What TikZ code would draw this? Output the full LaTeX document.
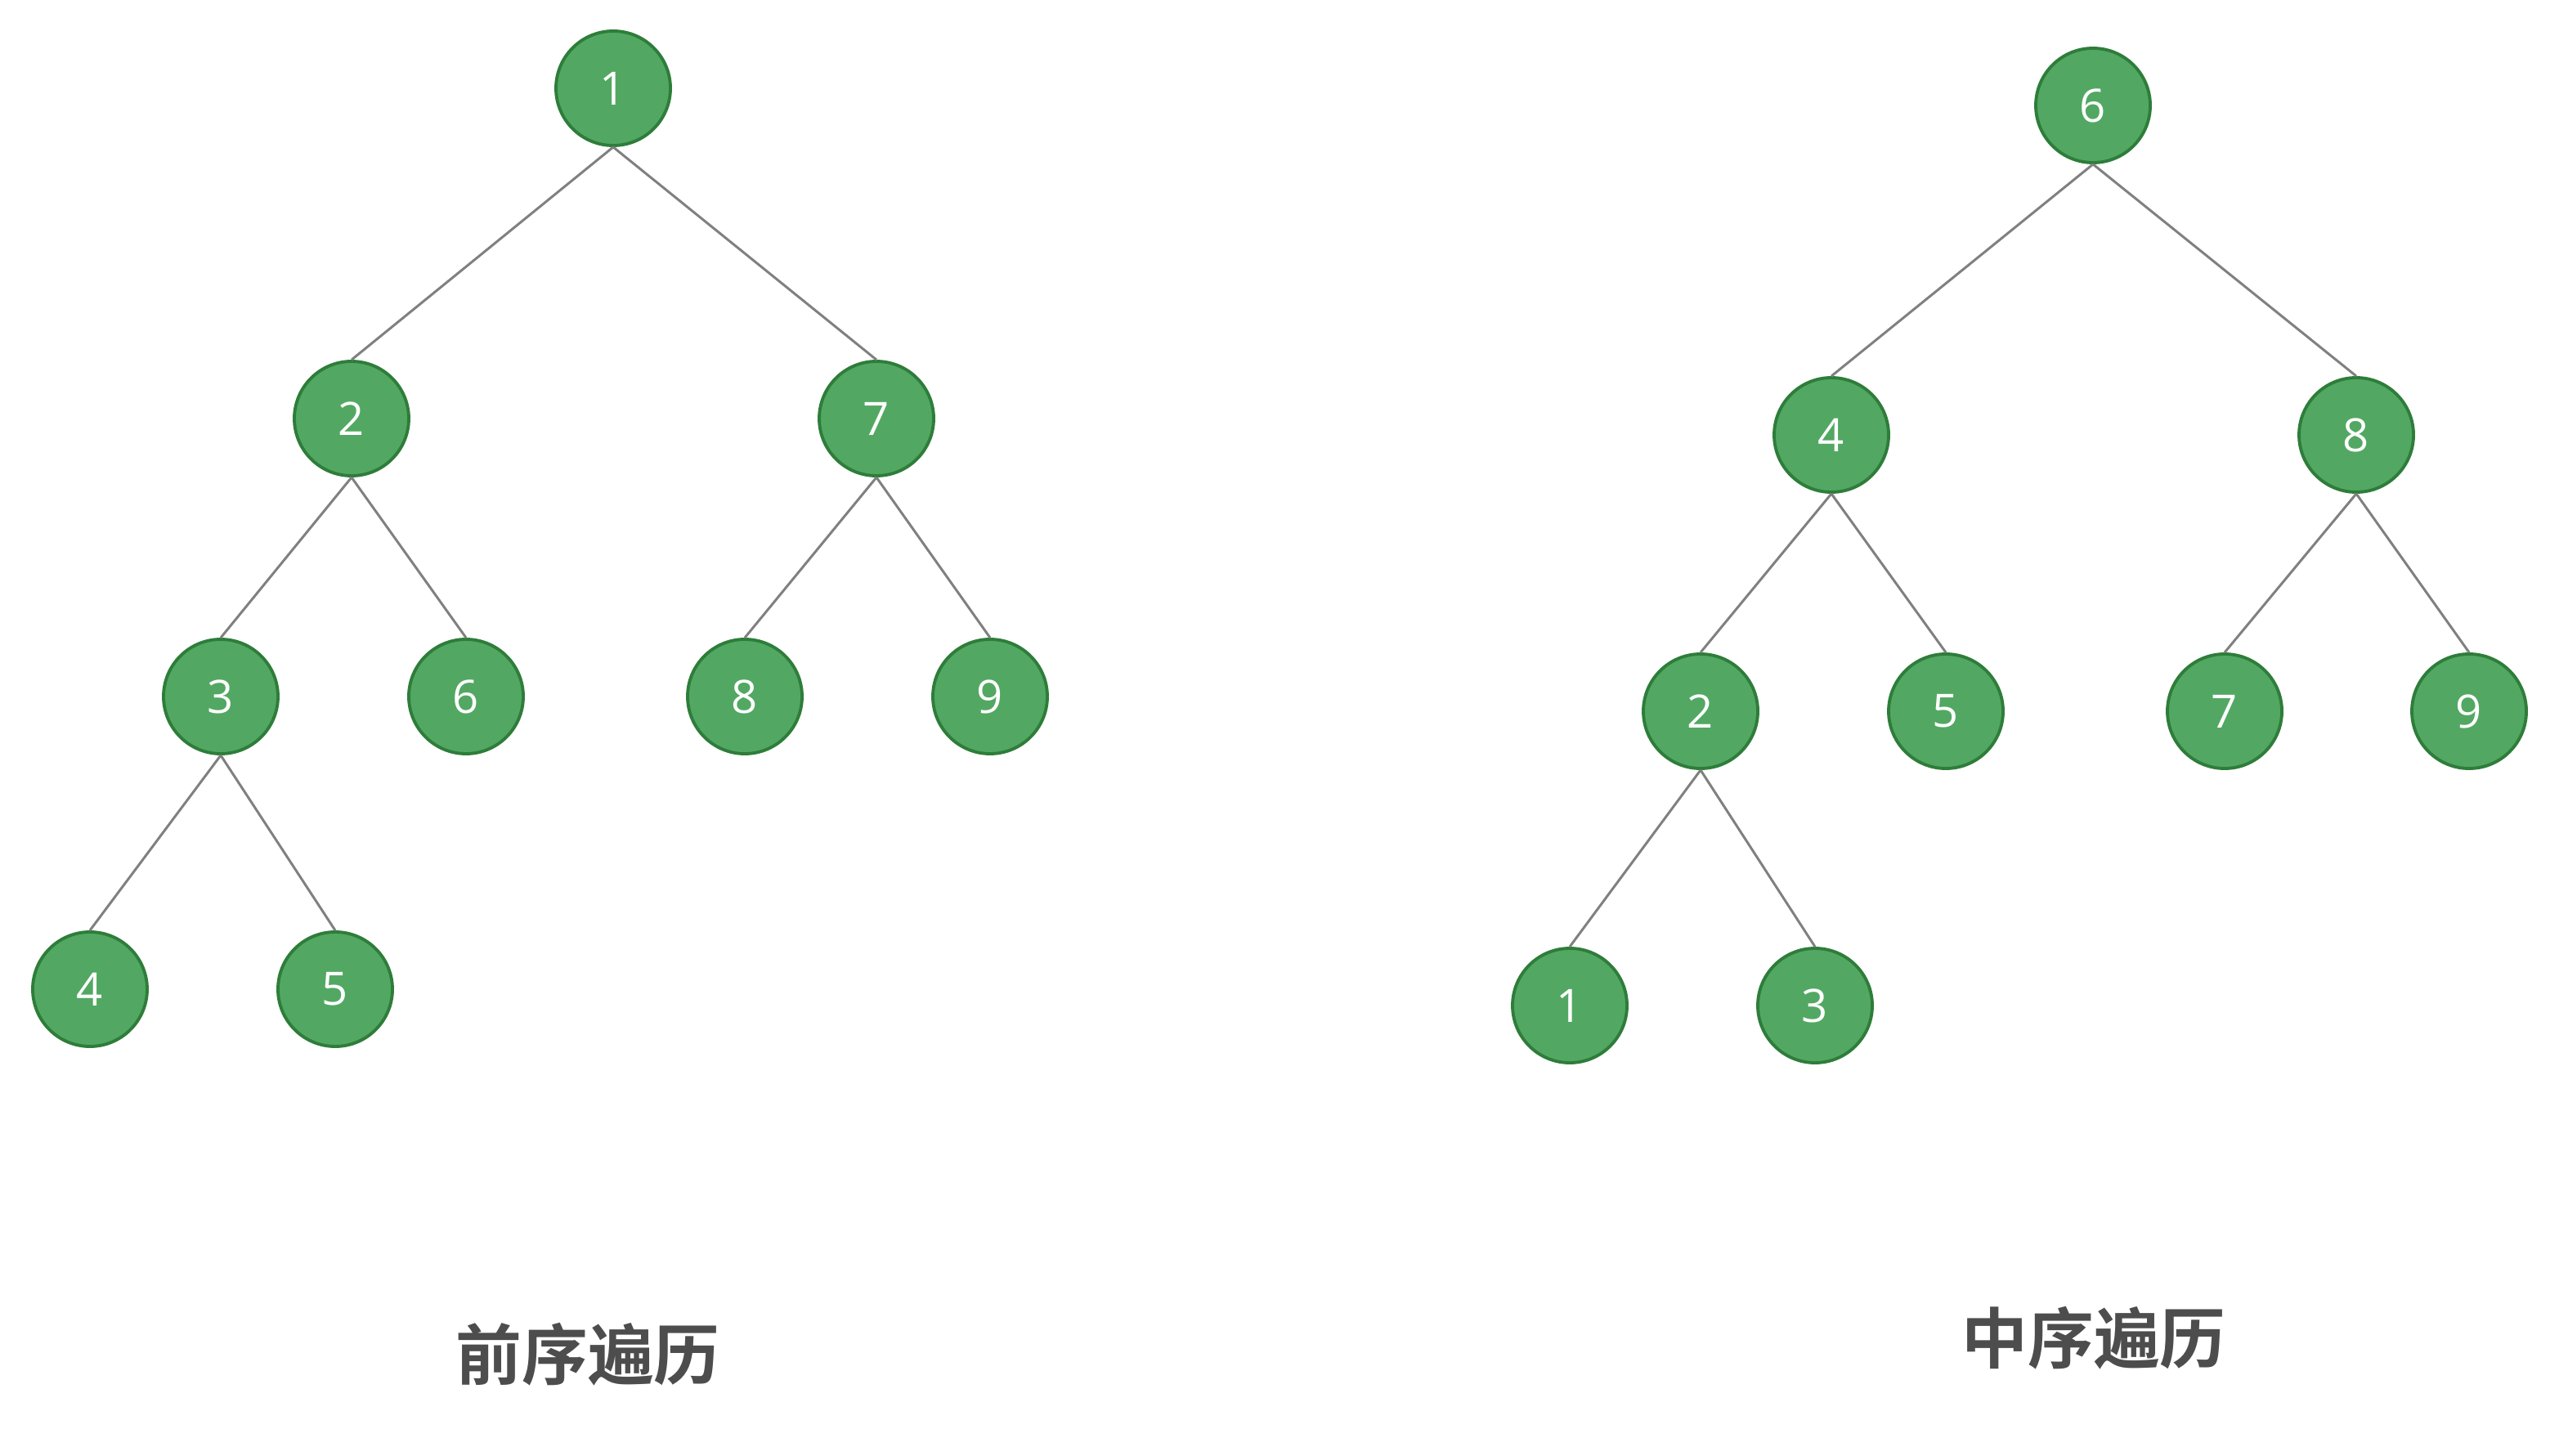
\documentclass[tikz,border=0pt]{standalone}
\usepackage{fontspec}
\setsansfont{Open Sans}
\newfontfamily\cjk{Noto Sans CJK SC Bold}
\usetikzlibrary{positioning}

\definecolor{nodefill}{RGB}{82,168,98}
\definecolor{nodeline}{RGB}{46,125,58}
\definecolor{edgegray}{RGB}{128,128,128}
\definecolor{labelgray}{RGB}{77,77,77}

\begin{document}
\begin{tikzpicture}[
  font=\sffamily,
  treenode/.style={circle, draw=nodeline, line width=1.1pt, fill=nodefill, minimum size=1.4cm, inner sep=0pt, text=white, font=\sffamily\fontsize{16}{18}\selectfont},
  edge/.style={draw=edgegray, line width=0.85pt},
  caption/.style={text=labelgray, font=\cjk\fontsize{23}{26}\selectfont}
]
\useasboundingbox (0,0) rectangle (31.3,17.8);

% --- 1. Preorder tree ---
\node[treenode] (p1) at (7.50, 16.72) {1};
\node[treenode] (p2) at (4.30, 12.68) {2};
\node[treenode] (p7) at (10.72, 12.68) {7};
\node[treenode] (p3) at (2.70, 9.28) {3};
\node[treenode] (p6) at (5.70, 9.28) {6};
\node[treenode] (p8) at (9.11, 9.28) {8};
\node[treenode] (p9) at (12.11, 9.28) {9};
\node[treenode] (p4) at (1.10, 5.70) {4};
\node[treenode] (p5) at (4.10, 5.70) {5};

\draw[edge] (p1.south) -- (p2.north);
\draw[edge] (p1.south) -- (p7.north);
\draw[edge] (p2.south) -- (p3.north);
\draw[edge] (p2.south) -- (p6.north);
\draw[edge] (p7.south) -- (p8.north);
\draw[edge] (p7.south) -- (p9.north);
\draw[edge] (p3.south) -- (p4.north);
\draw[edge] (p3.south) -- (p5.north);

\node[caption] (precap) at (7.19, 1.23) {前序遍历};

% --- 2. Inorder tree ---
\node[treenode] (i6) at (25.60, 16.51) {6};
\node[treenode] (i4) at (22.40, 12.48) {4};
\node[treenode] (i8) at (28.82, 12.48) {8};
\node[treenode] (i2) at (20.80, 9.10) {2};
\node[treenode] (i5) at (23.80, 9.10) {5};
\node[treenode] (i7) at (27.21, 9.10) {7};
\node[treenode] (i9) at (30.20, 9.10) {9};
\node[treenode] (i1) at (19.20, 5.50) {1};
\node[treenode] (i3) at (22.20, 5.50) {3};

\draw[edge] (i6.south) -- (i4.north);
\draw[edge] (i6.south) -- (i8.north);
\draw[edge] (i4.south) -- (i2.north);
\draw[edge] (i4.south) -- (i5.north);
\draw[edge] (i8.south) -- (i7.north);
\draw[edge] (i8.south) -- (i9.north);
\draw[edge] (i2.south) -- (i1.north);
\draw[edge] (i2.south) -- (i3.north);

\node[caption] (incap) at (25.61, 1.43) {中序遍历};

\end{tikzpicture}
\end{document}
